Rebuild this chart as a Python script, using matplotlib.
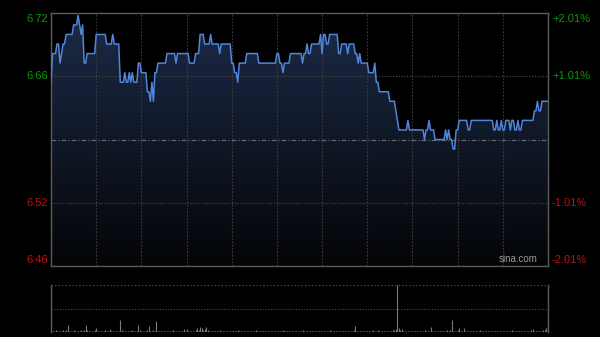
import numpy as np
import matplotlib
matplotlib.use("Agg")
import matplotlib.pyplot as plt
from matplotlib.colors import LinearSegmentedColormap

plt.rcParams['font.family'] = ['Liberation Sans', 'DejaVu Sans']

# ---- data ----
prev_close = 6.59
change_minutes = [0, 1, 4, 6, 7, 8, 10, 15, 18, 19, 20, 21, 22, 24, 30, 37, 41, 42, 46, 49,
                  50, 52, 53, 54, 55, 58, 60, 64, 66, 67, 68, 69, 71, 77, 83, 84, 92, 96, 99, 102,
                  106, 107, 112, 113, 120, 122, 124, 125, 130, 138, 150, 152, 154, 155, 159, 167, 168, 170, 171, 173,
                  179, 180, 181, 183, 185, 191, 193, 197, 198, 202, 204, 205, 206, 211, 215, 216, 218, 225, 229, 230,
                  231, 237, 238, 248, 249, 251, 252, 255, 262, 263, 264, 265, 267, 269, 271, 277, 279, 294, 296, 297,
                  299, 300, 302, 305, 306, 308, 310, 311, 313, 321, 323, 324, 326]
change_prices = [6.65, 6.68, 6.69, 6.67, 6.68, 6.69, 6.70, 6.71, 6.72, 6.71, 6.70, 6.71, 6.67, 6.68, 6.70, 6.69, 6.70, 6.69, 6.65, 6.66,
                 6.65, 6.66, 6.65, 6.66, 6.65, 6.67, 6.66, 6.64, 6.63, 6.65, 6.63, 6.66, 6.67, 6.68, 6.67, 6.68, 6.67, 6.68, 6.70, 6.69,
                 6.70, 6.69, 6.68, 6.69, 6.67, 6.66, 6.65, 6.67, 6.68, 6.67, 6.68, 6.67, 6.66, 6.67, 6.68, 6.67, 6.68, 6.69, 6.68, 6.69,
                 6.70, 6.68, 6.70, 6.69, 6.70, 6.68, 6.69, 6.68, 6.69, 6.68, 6.67, 6.68, 6.67, 6.66, 6.67, 6.65, 6.64, 6.63, 6.62, 6.61,
                 6.60, 6.61, 6.60, 6.59, 6.60, 6.61, 6.60, 6.59, 6.60, 6.59, 6.60, 6.59, 6.58, 6.60, 6.61, 6.60, 6.61, 6.60, 6.61, 6.60,
                 6.61, 6.60, 6.61, 6.60, 6.61, 6.60, 6.61, 6.60, 6.61, 6.62, 6.63, 6.62, 6.63]
n_minutes = 331

volumes = [6, 3, 2, 4, 2, 3, 2, 2, 5, 3, 4, 15, 3, 2, 2, 4, 3, 2, 2, 3, 4, 3, 5, 14, 4, 3, 2, 3, 2, 4,
           8, 3, 2, 2, 3, 2, 4, 2, 3, 6, 2, 3, 2, 3, 2, 2, 25, 4, 3, 2, 3, 2, 2, 3, 4, 2, 3, 2, 14, 4,
           3, 2, 3, 2, 4, 12, 3, 2, 4, 3, 23, 3, 2, 2, 3, 2, 2, 3, 2, 3, 2, 4, 2, 3, 2, 2, 3, 2, 7, 3,
           6, 2, 3, 2, 2, 3, 4, 9, 5, 10, 8, 4, 6, 10, 5, 3, 2, 3, 2, 2, 3, 2, 4, 2, 3, 2, 2, 3, 2, 2,
           3, 2, 2, 3, 4, 2, 2, 3, 2, 2, 3, 2, 2, 3, 2, 2, 4, 2, 3, 2, 2, 3, 2, 2, 3, 2, 3, 2, 2, 3,
           2, 3, 2, 2, 4, 2, 3, 2, 2, 3, 2, 2, 3, 2, 2, 3, 2, 4, 2, 2, 3, 2, 3, 2, 2, 3, 2, 2, 3, 2,
           3, 2, 2, 3, 2, 4, 2, 2, 3, 2, 2, 3, 2, 2, 3, 2, 2, 3, 2, 2, 3, 4, 12, 3, 2, 2, 3, 2, 2, 3,
           2, 3, 2, 2, 4, 3, 2, 5, 3, 2, 2, 3, 2, 2, 3, 2, 3, 4, 5, 6, 100, 8, 4, 6, 3, 2, 3, 2, 2, 3,
           2, 3, 2, 2, 3, 2, 2, 3, 4, 3, 2, 3, 10, 3, 2, 2, 3, 2, 2, 3, 2, 3, 2, 4, 3, 5, 25, 3, 2, 3,
           4, 9, 3, 2, 9, 3, 2, 3, 2, 2, 3, 2, 2, 3, 2, 4, 2, 3, 2, 2, 3, 2, 2, 3, 2, 3, 2, 2, 3, 2,
           2, 3, 2, 2, 3, 2, 4, 3, 2, 2, 3, 2, 2, 3, 2, 2, 3, 2, 2, 4, 6, 3, 2, 3, 2, 2, 3, 4, 5, 8, 25]

pct_ticks = [0.0201, 0.0101, -0.0101, -0.0201]
pct_labels = ['+2.01%', '+1.01%', '-1.01%', '-2.01%']

# ---- build series ----
runs = np.diff(change_minutes + [n_minutes])
price = np.repeat(change_prices, runs)
t = np.arange(n_minutes)
vol = np.array(volumes, dtype=float)

ymax = prev_close * (1 + 0.0201)
ymin = prev_close * (1 - 0.0201)

fig = plt.figure(figsize=(6, 3.37), dpi=100, facecolor='black')

# ---- main price panel ----
ax = fig.add_axes([51 / 600, 1 - 266 / 337, 497 / 600, 253 / 337])
ax.set_facecolor('black')
ax.set_xlim(0, n_minutes - 1)
ax.set_ylim(ymin, ymax)

# gradient fill under the line
cmap = LinearSegmentedColormap.from_list('fillgrad', ['#040507', '#1c2b48'])
grad = np.linspace(0, 1, 256).reshape(-1, 1)
im = ax.imshow(grad, cmap=cmap, origin='lower', aspect='auto',
               extent=[0, n_minutes - 1, ymin, ymax], zorder=1)
poly = ax.fill_between(t, price, ymin, color='none', lw=0)
clip_path = poly.get_paths()[0]
im.set_clip_path(clip_path, transform=ax.transData)

# grid
for m in range(30, n_minutes - 1, 30):
    ax.axvline(m, color='#3c3c3c', lw=0.8, ls=(0, (1.5, 1.5)), zorder=2)
for p in [0.0101, -0.0101]:
    ax.axhline(prev_close * (1 + p), color='#4a4a4a', lw=0.8, ls=(0, (1, 1.5)), zorder=2)
ax.axhline(prev_close, color='#5f6670', lw=0.9, ls=(0, (4, 1.5, 1, 1.5)), zorder=2)

ax.plot(t, price, color='#4f86dc', lw=1.1, zorder=3)

for s in ax.spines.values():
    s.set_color('#5c5c5c')
    s.set_linewidth(1.0)
ax.set_xticks([])
ax.set_yticks([])

# labels
for p, lab in zip(pct_ticks, pct_labels):
    yv = prev_close * (1 + p)
    col = '#0a9a0a' if p > 0 else '#c01010'
    if p == pct_ticks[0]:
        va, off = 'top', -1
    elif p == pct_ticks[-1]:
        va, off = 'bottom', 1
    else:
        va, off = 'center', 0
    ax.annotate(f'{yv:.2f}', xy=(0, yv), xycoords=('axes fraction', 'data'),
                xytext=(-3, off), textcoords='offset pixels',
                ha='right', va=va, color=col, fontsize=8)
    ax.annotate(lab, xy=(1, yv), xycoords=('axes fraction', 'data'),
                xytext=(4, off), textcoords='offset pixels',
                ha='left', va=va, color=col, fontsize=8)

ax.text(0.98, 0.008, 'sina.com', transform=ax.transAxes, ha='right', va='bottom',
        color='#9a9a9a', fontsize=7, zorder=5)

# ---- volume panel ----
axv = fig.add_axes([51 / 600, 1 - 332 / 337, 497 / 600, 47 / 337])
axv.set_facecolor('black')
axv.set_xlim(0, n_minutes - 1)
vmax = vol.max()
axv.set_ylim(0, vmax)
axv.vlines(t, 0, vol, color='#7a7a7a', lw=0.8)
axv.axhline(vmax * 0.5, color='#4a4a4a', lw=0.8, ls=(0, (1, 1.5)))
axv.axhline(vmax, color='#4a4a4a', lw=1.0, ls=(0, (1, 1.5)))
for k in ['top', 'bottom']:
    axv.spines[k].set_visible(False)
for k in ['left', 'right']:
    axv.spines[k].set_color('#5c5c5c')
    axv.spines[k].set_linewidth(1.0)
axv.set_xticks([])
axv.set_yticks([])

fig.savefig('out.png', dpi=100, facecolor='black')
